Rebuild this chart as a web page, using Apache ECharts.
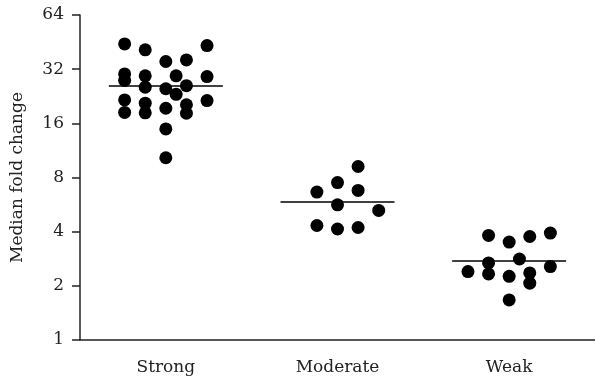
<!DOCTYPE html>
<html>
<head>
<meta charset="utf-8">
<script src="https://cdn.jsdelivr.net/npm/echarts@6/dist/echarts.min.js"></script>
<style>
  html, body { margin: 0; padding: 0; background: #fff; }
  #chart { width: 595px; height: 379px; }
</style>
</head>
<body>
<div id="chart"></div>
<script>
// Group labels
const categories = ['Strong', 'Moderate', 'Weak'];

// Fold-change values per group, with the dot's lane within its group column
const strongValues = [44.2, 30.1, 27.7, 21.6, 18.4,
                      41.0, 29.4, 25.4, 20.7, 18.3,
                      35.3, 24.9, 19.4, 14.9, 10.3,
                      29.4, 23.2,
                      36.0, 25.9, 20.3, 18.2,
                      43.3, 29.1, 21.4];
const strongLanes = [-4, -4, -4, -4, -4,
                     -2, -2, -2, -2, -2,
                      0,  0,  0,  0,  0,
                      1,  1,
                      2,  2,  2,  2,
                      4,  4,  4];

const moderateValues = [9.21, 7.50, 6.64, 6.78, 5.64, 5.25, 4.33, 4.14, 4.22];
const moderateLanes  = [2, 0, -2, 2, 0, 4, -2, 0, 2];

const weakValues = [3.81, 3.50, 3.76, 3.93, 2.68, 2.82, 2.40, 2.33, 2.26, 2.36, 2.56, 2.07, 1.67];
const weakLanes  = [-2, 0, 2, 4, -2, 1, -4, -2, 0, 2, 4, 2, 0];

// Median of each group
const medians = [25.85, 5.89, 2.76];

// Y tick labels (log base 2)
const yTicks = [1, 2, 4, 8, 16, 32, 64];

const LANE = 0.06;        // lane spacing, in category-band units
const HALF_LINE = 0.332;  // half length of the median bar

const groups = [
  { values: strongValues, lanes: strongLanes },
  { values: moderateValues, lanes: moderateLanes },
  { values: weakValues, lanes: weakLanes }
];

const points = [];
groups.forEach((g, gi) => {
  g.values.forEach((v, i) => points.push([gi + g.lanes[i] * LANE, v]));
});

const medianLines = medians.map((m, gi) => [
  { coord: [gi - HALF_LINE, m] },
  { coord: [gi + HALF_LINE, m] }
]);

const FONT = 'DejaVu Serif';
const INK = '#222';

const chart = echarts.init(document.getElementById('chart'), null, { renderer: 'canvas' });
chart.setOption({
  animation: false,
  backgroundColor: '#fff',
  grid: { left: 80, top: 15, width: 519, height: 325 },
  xAxis: [
    {
      type: 'category',
      data: categories,
      boundaryGap: true,
      axisLine: { lineStyle: { color: INK, width: 1.5 } },
      axisTick: { alignWithLabel: true, length: 8, lineStyle: { color: INK, width: 1.5 } },
      axisLabel: { color: INK, fontFamily: FONT, fontSize: 17, margin: 19 },
      splitLine: { show: false }
    },
    {
      type: 'value',
      min: -0.5,
      max: 2.5,
      show: false
    }
  ],
  yAxis: {
    type: 'log',
    logBase: 2,
    min: yTicks[0],
    max: yTicks[yTicks.length - 1],
    interval: 1,
    name: 'Median fold change',
    nameLocation: 'middle',
    nameGap: 54,
    nameTextStyle: { color: INK, fontFamily: FONT, fontSize: 17 },
    axisLine: { show: true, onZero: false, lineStyle: { color: INK, width: 1.5 } },
    axisTick: { show: true, length: 8, lineStyle: { color: INK, width: 1.5 } },
    axisLabel: {
      color: INK, fontFamily: FONT, fontSize: 17, margin: 16,
      formatter: v => String(Math.round(v))
    },
    splitLine: { show: false }
  },
  series: [
    {
      type: 'scatter',
      xAxisIndex: 1,
      data: points,
      symbol: 'circle',
      symbolSize: 13,
      itemStyle: { color: '#000', opacity: 1 },
      markLine: {
        silent: true,
        symbol: 'none',
        label: { show: false },
        lineStyle: { color: '#000', width: 1.5, type: 'solid' },
        emphasis: { disabled: true },
        data: medianLines
      }
    }
  ]
});
</script>
</body>
</html>
